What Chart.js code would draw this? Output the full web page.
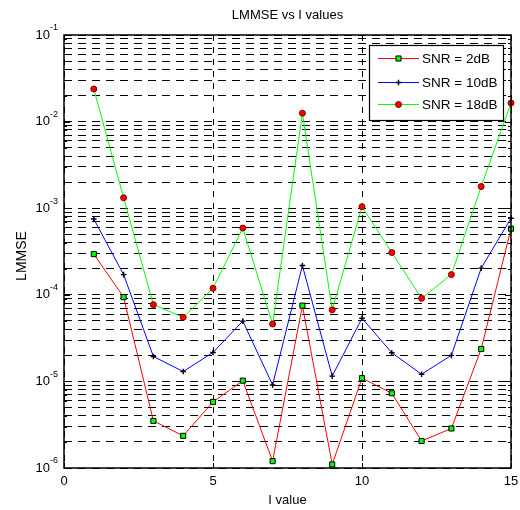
<!DOCTYPE html>
<html>
<head>
<meta charset="utf-8">
<script src="https://cdn.jsdelivr.net/npm/chart.js@4.4.1/dist/chart.umd.min.js"></script>
<style>
  html, body { margin: 0; padding: 0; background: #fff; }
  #wrap { width: 520px; height: 510px; }
</style>
</head>
<body>
<div id="wrap"><canvas id="lmmseChart" width="520" height="510"></canvas></div>
<script>
// data
const iValues = [1, 2, 3, 4, 5, 6, 7, 8, 9, 10, 11, 12, 13, 14, 15];
const snr2dB = [2.95e-4, 9.4e-5, 3.5e-6, 2.35e-6, 5.8e-6, 1.02e-5, 1.2e-6, 7.5e-5, 1.1e-6, 1.09e-5, 7.3e-6, 2.05e-6, 2.86e-6, 2.37e-5, 5.8e-4];
const snr10dB = [7.5e-4, 1.71e-4, 1.94e-5, 1.3e-5, 2.16e-5, 4.97e-5, 9.1e-6, 2.18e-4, 1.15e-5, 5.37e-5, 2.14e-5, 1.21e-5, 2.0e-5, 2.03e-4, 7.66e-4];
const snr18dB = [2.38e-2, 1.32e-3, 7.7e-5, 5.5e-5, 1.19e-4, 5.9e-4, 4.6e-5, 1.25e-2, 6.7e-5, 1.04e-3, 3.08e-4, 9.1e-5, 1.71e-4, 1.78e-3, 1.64e-2];
const seriesNames = ['SNR = 2dB', 'SNR = 10dB', 'SNR = 18dB'];
const xTicks = [0, 5, 10, 15];
const yExponents = [-6, -5, -4, -3, -2, -1];

const FONT = '"Liberation Sans", Arial, sans-serif';

function toPoints(arr) {
    return arr.map((v, i) => ({ x: iValues[i], y: v }));
}

// minor log ticks 1..9 x 10^e
const yAllTicks = [];
yExponents.forEach(e => {
    for (let m = 1; m <= 9; m++) {
        const v = m * Math.pow(10, e);
        if (v <= 1e-1 + 1e-12) yAllTicks.push(v);
    }
});

const styles = [
    { line: '#ff0000', fill: '#00ff00', stroke: '#000000', shape: 'rect', r: 3.6, bw: 1 },
    { line: '#0000ff', fill: '#000000', stroke: '#000000', shape: 'cross', r: 2.8, bw: 1.4 },
    { line: '#00ff00', fill: '#ff0000', stroke: '#7a0000', shape: 'circle', r: 3, bw: 1 }
];

const decorations = {
    id: 'decorations',
    afterDraw(chart) {
        const ctx = chart.ctx;
        const a = chart.chartArea;
        const xs = chart.scales.x, ys = chart.scales.y;
        ctx.save();

        // small inward ticks
        ctx.strokeStyle = '#000';
        ctx.lineWidth = 1;
        ctx.beginPath();
        yAllTicks.forEach(v => {
            const y = Math.round(ys.getPixelForValue(v)) + 0.5;
            const len = (Math.abs(Math.log10(v) - Math.round(Math.log10(v))) < 1e-9) ? 6 : 3;
            ctx.moveTo(a.left, y); ctx.lineTo(a.left + len, y);
            ctx.moveTo(a.right, y); ctx.lineTo(a.right - len, y);
        });
        xTicks.forEach(t => {
            const x = Math.round(xs.getPixelForValue(t)) + 0.5;
            ctx.moveTo(x, a.bottom); ctx.lineTo(x, a.bottom - 5);
            ctx.moveTo(x, a.top); ctx.lineTo(x, a.top + 5);
        });
        ctx.stroke();

        // frame
        ctx.lineWidth = 1.5;
        ctx.strokeRect(a.left, a.top, a.right - a.left, a.bottom - a.top);

        // tick labels
        ctx.fillStyle = '#000';
        ctx.font = '13px ' + FONT;
        ctx.textAlign = 'center';
        ctx.textBaseline = 'middle';
        xTicks.forEach(t => {
            ctx.fillText(String(t), xs.getPixelForValue(t), a.bottom + 13);
        });
        yExponents.forEach(e => {
            const y = ys.getPixelForValue(Math.pow(10, e));
            ctx.font = '13px ' + FONT;
            ctx.textAlign = 'right';
            ctx.fillText('10', 50, y);
            ctx.font = '9px ' + FONT;
            ctx.textAlign = 'left';
            ctx.fillText(String(e), 50, y - 7);
        });

        // titles
        ctx.font = '13px ' + FONT;
        ctx.textAlign = 'center';
        ctx.fillText('LMMSE vs I values', (a.left + a.right) / 2, 15);
        ctx.fillText('I value', (a.left + a.right) / 2, 500);
        ctx.save();
        ctx.translate(22, 256);
        ctx.rotate(-Math.PI / 2);
        ctx.font = '14px ' + FONT;
        ctx.fillText('LMMSE', 0, 0);
        ctx.restore();

        // legend box
        const lx = 369, ly = 45, lw = 134, lh = 75;
        ctx.fillStyle = '#fff';
        ctx.fillRect(lx, ly, lw, lh);
        ctx.lineWidth = 1.2;
        ctx.strokeStyle = '#000';
        ctx.strokeRect(lx + 0.5, ly + 0.5, lw, lh);
        const rows = [58, 82, 104];
        seriesNames.forEach((name, i) => {
            const s = styles[i];
            const y = rows[i];
            ctx.strokeStyle = s.line;
            ctx.lineWidth = 1;
            ctx.beginPath();
            ctx.moveTo(378, y + 0.5); ctx.lineTo(419, y + 0.5);
            ctx.stroke();
            ctx.fillStyle = s.fill;
            ctx.strokeStyle = s.stroke;
            ctx.lineWidth = s.bw;
            Chart.helpers.drawPoint(ctx, { pointStyle: s.shape, radius: s.r, rotation: 0, borderWidth: s.bw }, 398.5, y + 0.5);
            ctx.fillStyle = '#000';
            ctx.font = '13.5px ' + FONT;
            ctx.textAlign = 'left';
            ctx.textBaseline = 'middle';
            ctx.fillText(name, 422, y + 1);
        });
        ctx.restore();
    }
};

const seriesData = [snr2dB, snr10dB, snr18dB];

new Chart(document.getElementById('lmmseChart').getContext('2d'), {
    type: 'line',
    data: {
        datasets: seriesData.map((arr, i) => ({
            label: seriesNames[i],
            data: toPoints(arr),
            borderColor: styles[i].line,
            borderWidth: 1,
            backgroundColor: styles[i].fill,
            pointStyle: styles[i].shape,
            pointRadius: styles[i].r,
            pointBorderColor: styles[i].stroke,
            pointBackgroundColor: styles[i].fill,
            pointBorderWidth: styles[i].bw,
            tension: 0,
            fill: false,
            clip: false
        }))
    },
    options: {
        responsive: false,
        animation: false,
        events: [],
        layout: { padding: { left: 64, right: 9, top: 35, bottom: 42 } },
        plugins: { legend: { display: false }, title: { display: false }, tooltip: { enabled: false } },
        scales: {
            x: {
                type: 'linear',
                min: 0, max: 15,
                afterBuildTicks: s => { s.ticks = xTicks.map(v => ({ value: v })); },
                ticks: { display: false },
                grid: { color: '#000', lineWidth: 1, drawTicks: false },
                border: { display: false, dash: [6, 6] }
            },
            y: {
                type: 'logarithmic',
                min: 1e-6, max: 1e-1,
                afterBuildTicks: s => { s.ticks = yAllTicks.map(v => ({ value: v })); },
                ticks: { display: false },
                grid: { color: '#000', lineWidth: 1, drawTicks: false },
                border: { display: false, dash: [8, 6] }
            }
        }
    },
    plugins: [decorations]
});
</script>
</body>
</html>
